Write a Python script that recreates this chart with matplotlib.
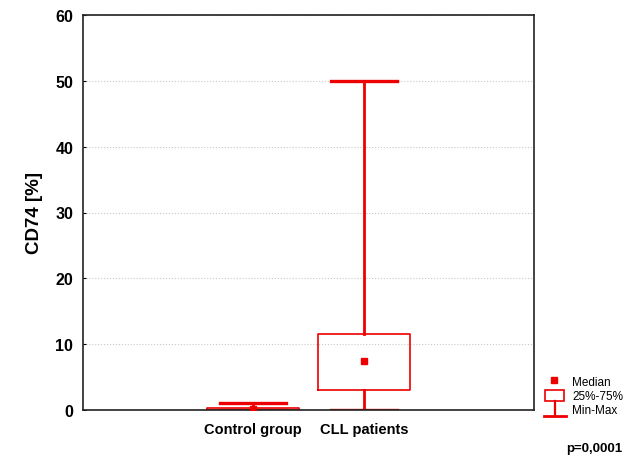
import matplotlib
matplotlib.use('Agg')
import matplotlib.pyplot as plt
from matplotlib.patches import Rectangle
from matplotlib.lines import Line2D

plt.rcParams['font.family'] = ['Liberation Sans', 'DejaVu Sans']

# data
groups = ["Control group", "CLL patients"]
medians = [0.2, 7.5]
q1 = [0.0, 3.0]
q3 = [0.3, 11.5]
mins = [0.0, 0.0]
maxs = [1.1, 50.0]
yticks = [0, 10, 20, 30, 40, 50, 60]
legend_labels = ["Median", "25%-75%", "Min-Max"]
p_text = "p=0,0001"

RED = "#ee0000"

fig = plt.figure(figsize=(6.37, 4.56), dpi=100)
ax = fig.add_axes([83 / 637, 1 - 411 / 456, 451 / 637, 395 / 456])

stats = []
for g, md, a, b, lo, hi in zip(groups, medians, q1, q3, mins, maxs):
    stats.append({"label": g, "med": md, "q1": a, "q3": b,
                  "whislo": lo, "whishi": hi})

pos = [1, 2]
ax.bxp(stats, positions=pos, widths=0.82, capwidths=0.6, showfliers=False,
       boxprops=dict(color=RED, linewidth=1.2),
       whiskerprops=dict(color=RED, linewidth=2.0),
       capprops=dict(color=RED, linewidth=2.4),
       medianprops=dict(linestyle='none'))
ax.plot(pos, medians, 's', color=RED, markersize=4, zorder=5)

ax.set_xlim(-0.53, 3.53)
ax.set_ylim(0, 60)
ax.set_yticks(yticks)
ax.set_xticks(pos)
ax.set_xticklabels(groups, fontsize=10.5, fontweight='bold')
ax.tick_params(axis='x', length=0, pad=9)
ax.tick_params(axis='y', direction='in', length=2, labelsize=11.5, pad=7)
for lab in ax.get_yticklabels():
    lab.set_fontweight('bold')
ax.yaxis.grid(True, linestyle=':', color='#c8c8c8', linewidth=0.8)
ax.set_axisbelow(True)
for s in ax.spines.values():
    s.set_linewidth(1.2)
    s.set_color('#222222')
ax.set_ylabel("CD74 [%]", fontsize=13.5, fontweight='bold', labelpad=9)

# legend drawn by hand in pixel coordinates
def px(x, y):
    return x / 637, 1 - y / 456

tf = fig.transFigure
fig.add_artist(Line2D([px(554, 0)[0]], [px(0, 381)[1]], marker='s', color=RED,
                      markersize=4, transform=tf))
x0, y0 = px(545, 402)
x1, y1 = px(564, 391)
fig.add_artist(Rectangle((x0, y0), x1 - x0, y1 - y0, fill=False,
                         edgecolor=RED, linewidth=1.2, transform=tf))
fig.add_artist(Line2D([px(554.5, 0)[0]] * 2, [px(0, 402)[1], px(0, 417)[1]],
                      color=RED, linewidth=1.6, transform=tf))
fig.add_artist(Line2D([px(544, 0)[0], px(566, 0)[0]], [px(0, 417)[1]] * 2,
                      color=RED, linewidth=2.0, transform=tf))
for lab, yy in zip(legend_labels, [383, 397, 411]):
    fig.text(*px(572, yy), lab, fontsize=8.5, va='center', ha='left')

fig.text(*px(594, 449), p_text, fontsize=9.5, fontweight='bold',
         ha='center', va='center')

fig.savefig("out.png", dpi=100)
